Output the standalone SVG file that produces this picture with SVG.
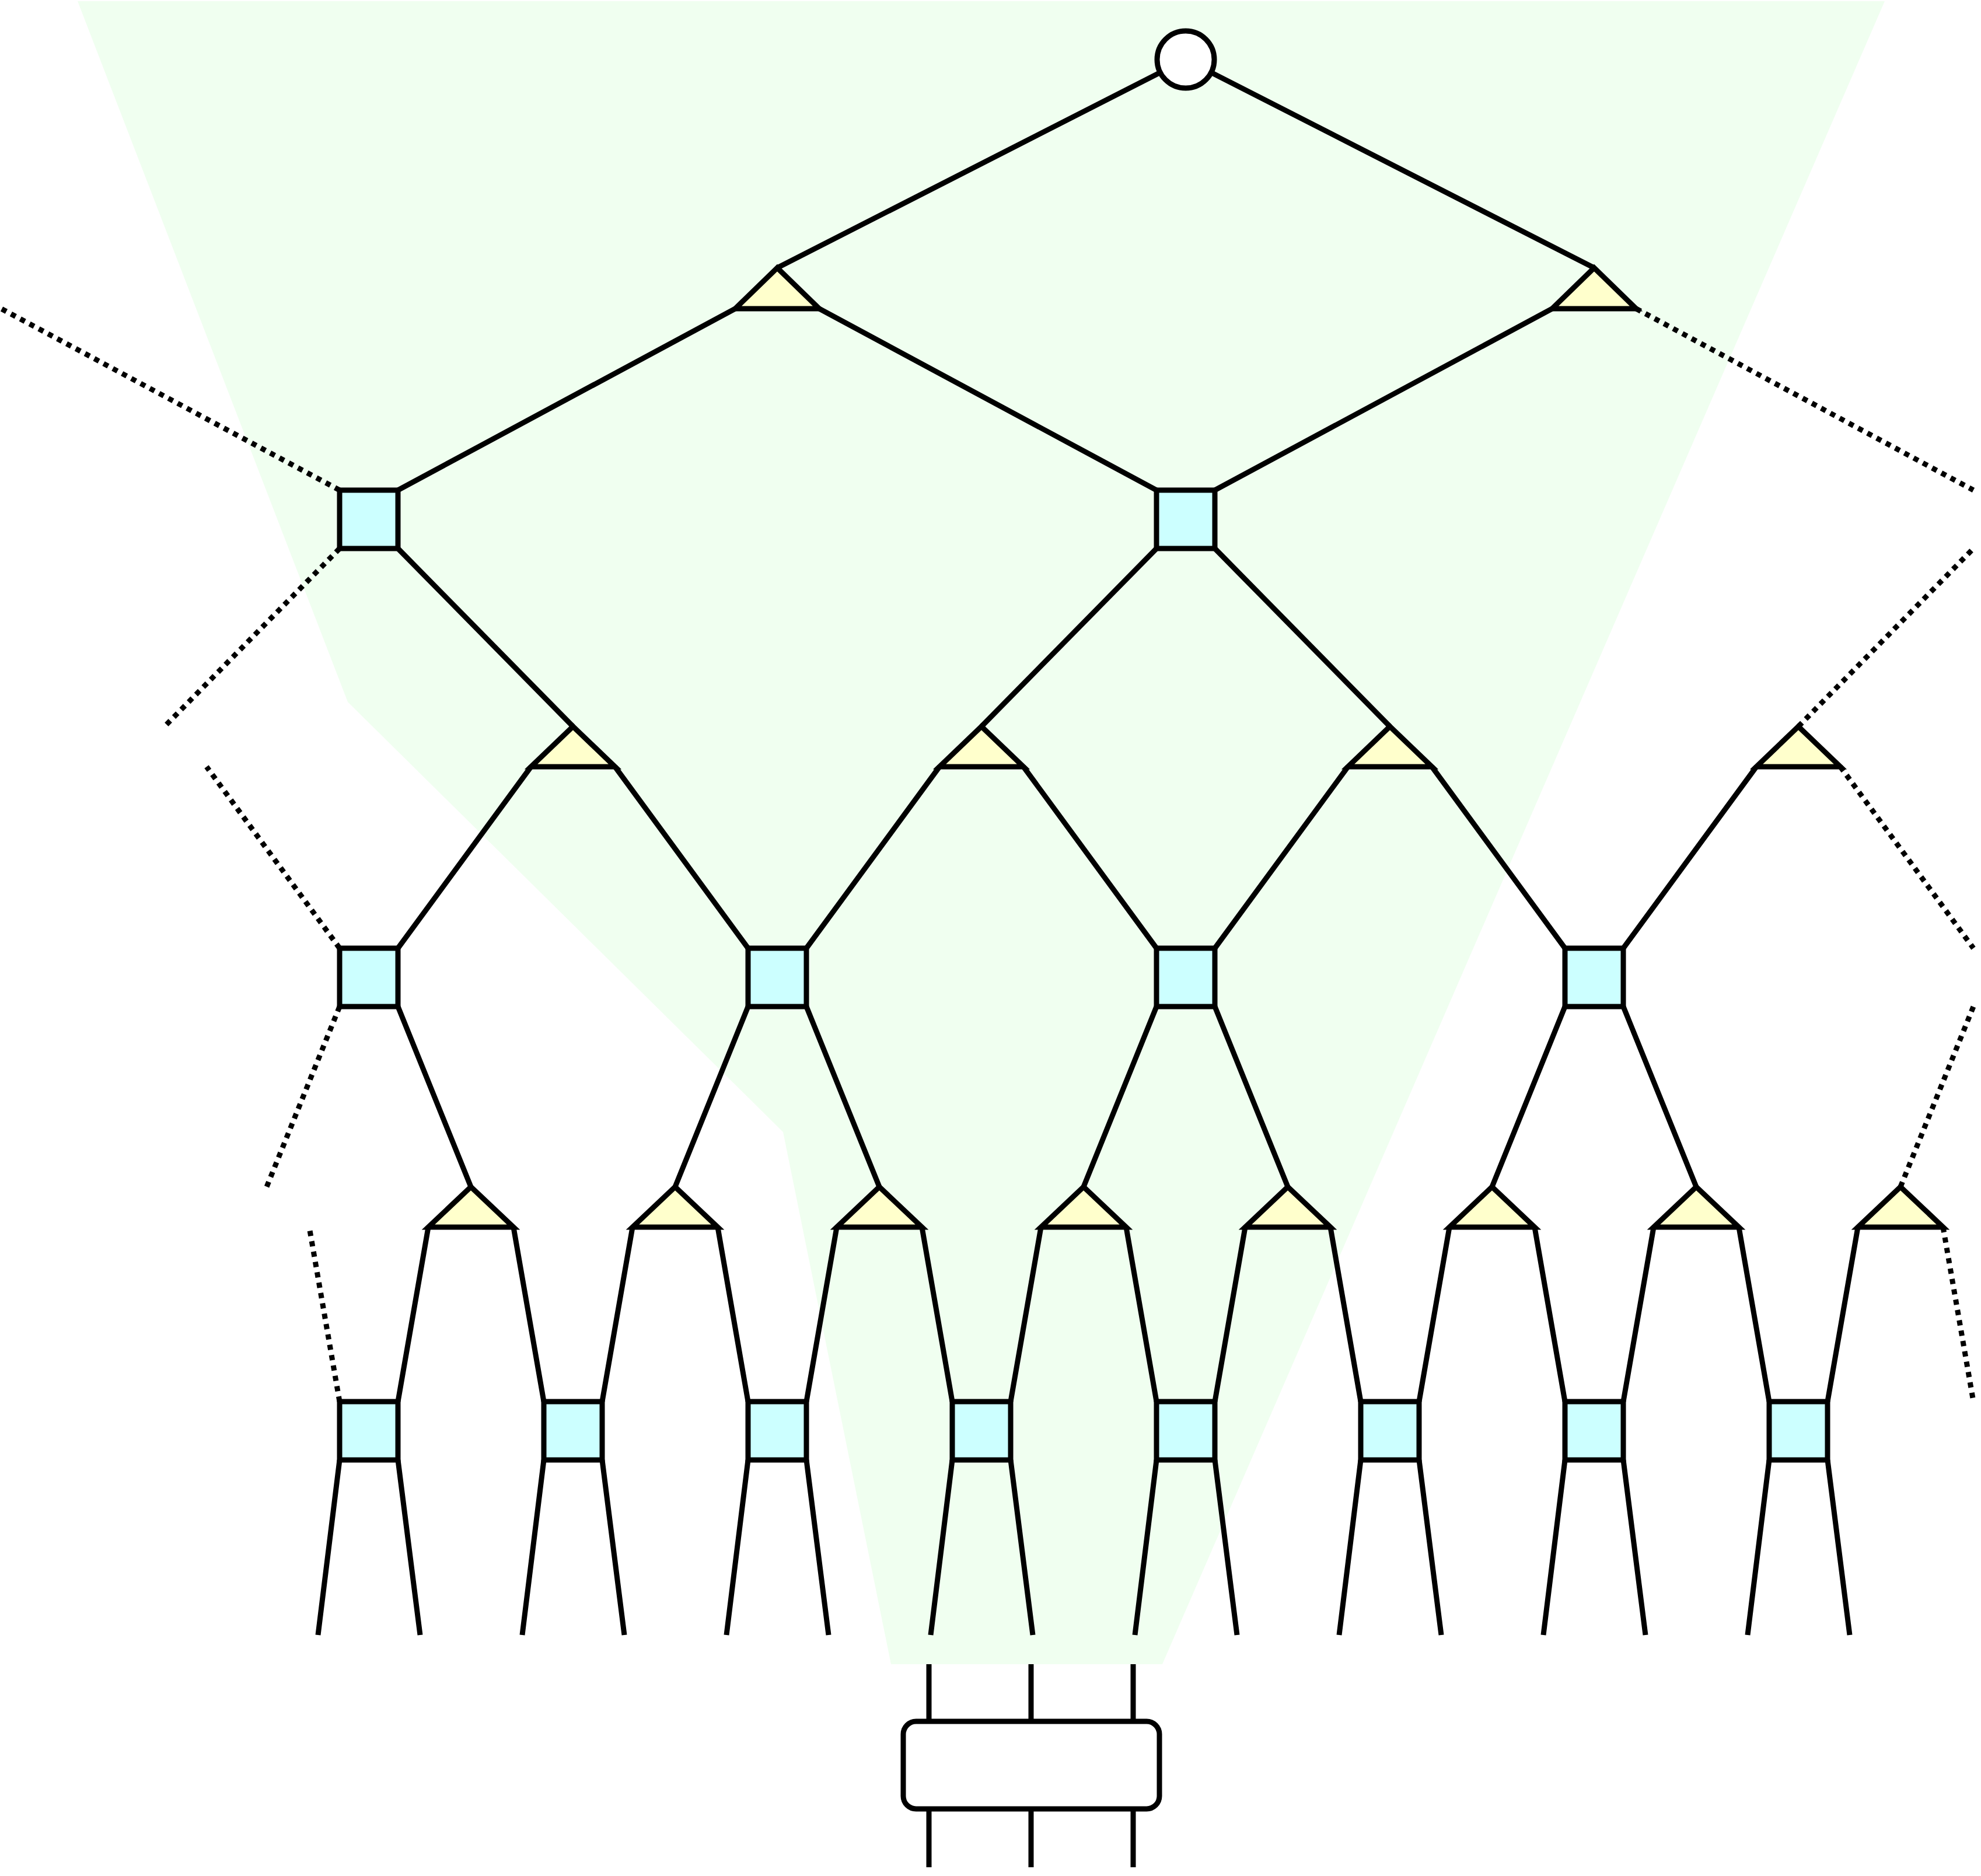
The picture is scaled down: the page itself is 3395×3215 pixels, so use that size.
<svg xmlns="http://www.w3.org/2000/svg" width="3395" height="3215" viewBox="0 0 3395 3215">
<style>
.c{stroke:#000;stroke-width:9;fill:none;stroke-linecap:butt}
.d{stroke:#000;stroke-width:9;fill:none;stroke-dasharray:9 9}
.sq{fill:#ccffff;stroke:#000;stroke-width:9}
.tr{fill:#ffffcc;stroke:#000;stroke-width:9;stroke-linejoin:miter}
.ci{fill:#fff;stroke:#000;stroke-width:9}
.bx{fill:#fff;stroke:#000;stroke-width:9}
</style>
<rect x="0" y="0" width="3395" height="3215" fill="#fff"/>
<polygon id="region" points="133,2 3230,2 1992,2852 1527,2852 1342,1940 596,1203" fill="#f0fff0"/>
<g id="connectors">
<path class="c" d="M2032,102L1332,459M2032,102L2732,459"/>
<path class="c" d="M1260,529L682,840M1404,529L1982,840M2660,529L2082,840"/>
<path class="d" d="M2804,529L3382,840M582,840L2,529"/>
<path class="c" d="M682,940L982,1245M1982,940L1682,1245M2082,940L2382,1245"/>
<path class="d" d="M582,940L282,1245M3082,1245L3382,940"/>
<path class="c" d="M910,1314L682,1625M1054,1314L1282,1625M1610,1314L1382,1625M1754,1314L1982,1625M2310,1314L2082,1625M2454,1314L2682,1625M3010,1314L2782,1625"/>
<path class="d" d="M3154,1314L3382,1625M582,1625L354,1314"/>
<path class="c" d="M682,1725L807,2034M1282,1725L1157,2034M1382,1725L1507,2034M1982,1725L1857,2034M2082,1725L2207,2034M2682,1725L2557,2034M2782,1725L2907,2034"/>
<path class="d" d="M582,1725L457,2034M3257,2034L3382,1725"/>
<path class="c" d="M734,2103L682,2402M880,2103L932,2402M1084,2103L1032,2402M1230,2103L1282,2402M1434,2103L1382,2402M1580,2103L1632,2402M1784,2103L1732,2402M1930,2103L1982,2402M2134,2103L2082,2402M2280,2103L2332,2402M2484,2103L2432,2402M2630,2103L2682,2402M2834,2103L2782,2402M2980,2103L3032,2402M3184,2103L3132,2402"/>
<path class="d" d="M3330,2103L3382,2402M582,2402L530,2103"/>
<path class="c" d="M582,2502L545,2802M682,2502L720,2802M932,2502L895,2802M1032,2502L1070,2802M1282,2502L1245,2802M1382,2502L1420,2802M1632,2502L1595,2802M1732,2502L1770,2802M1982,2502L1945,2802M2082,2502L2120,2802M2332,2502L2295,2802M2432,2502L2470,2802M2682,2502L2645,2802M2782,2502L2820,2802M3032,2502L2995,2802M3132,2502L3170,2802"/>
<path class="c" d="M1592,2852V2950M1767,2852V2950M1942,2852V2950M1592,3100V3200M1767,3100V3200M1942,3100V3200"/>
</g>
<g id="root"><circle class="ci" cx="2032" cy="102" r="49"/></g>
<g id="t1a"><polygon class="tr" points="1332,459 1404,529 1260,529"/></g>
<g id="t1b"><polygon class="tr" points="2732,459 2804,529 2660,529"/></g>
<g id="s2a"><rect class="sq" x="582" y="840" width="100" height="100"/></g>
<g id="s2b"><rect class="sq" x="1982" y="840" width="100" height="100"/></g>
<g id="t3a"><polygon class="tr" points="982,1245 1054,1314 910,1314"/></g>
<g id="t3b"><polygon class="tr" points="1682,1245 1754,1314 1610,1314"/></g>
<g id="t3c"><polygon class="tr" points="2382,1245 2454,1314 2310,1314"/></g>
<g id="t3d"><polygon class="tr" points="3082,1245 3154,1314 3010,1314"/></g>
<g id="s4a"><rect class="sq" x="582" y="1625" width="100" height="100"/></g>
<g id="s4b"><rect class="sq" x="1282" y="1625" width="100" height="100"/></g>
<g id="s4c"><rect class="sq" x="1982" y="1625" width="100" height="100"/></g>
<g id="s4d"><rect class="sq" x="2682" y="1625" width="100" height="100"/></g>
<g id="t5a"><polygon class="tr" points="807,2034 880,2103 734,2103"/></g>
<g id="t5b"><polygon class="tr" points="1157,2034 1230,2103 1084,2103"/></g>
<g id="t5c"><polygon class="tr" points="1507,2034 1580,2103 1434,2103"/></g>
<g id="t5d"><polygon class="tr" points="1857,2034 1930,2103 1784,2103"/></g>
<g id="t5e"><polygon class="tr" points="2207,2034 2280,2103 2134,2103"/></g>
<g id="t5f"><polygon class="tr" points="2557,2034 2630,2103 2484,2103"/></g>
<g id="t5g"><polygon class="tr" points="2907,2034 2980,2103 2834,2103"/></g>
<g id="t5h"><polygon class="tr" points="3257,2034 3330,2103 3184,2103"/></g>
<g id="s6a"><rect class="sq" x="582" y="2402" width="100" height="100"/></g>
<g id="s6b"><rect class="sq" x="932" y="2402" width="100" height="100"/></g>
<g id="s6c"><rect class="sq" x="1282" y="2402" width="100" height="100"/></g>
<g id="s6d"><rect class="sq" x="1632" y="2402" width="100" height="100"/></g>
<g id="s6e"><rect class="sq" x="1982" y="2402" width="100" height="100"/></g>
<g id="s6f"><rect class="sq" x="2332" y="2402" width="100" height="100"/></g>
<g id="s6g"><rect class="sq" x="2682" y="2402" width="100" height="100"/></g>
<g id="s6h"><rect class="sq" x="3032" y="2402" width="100" height="100"/></g>
<g id="box"><rect class="bx" x="1548" y="2950" width="439" height="150" rx="22" ry="22"/></g>
</svg>
